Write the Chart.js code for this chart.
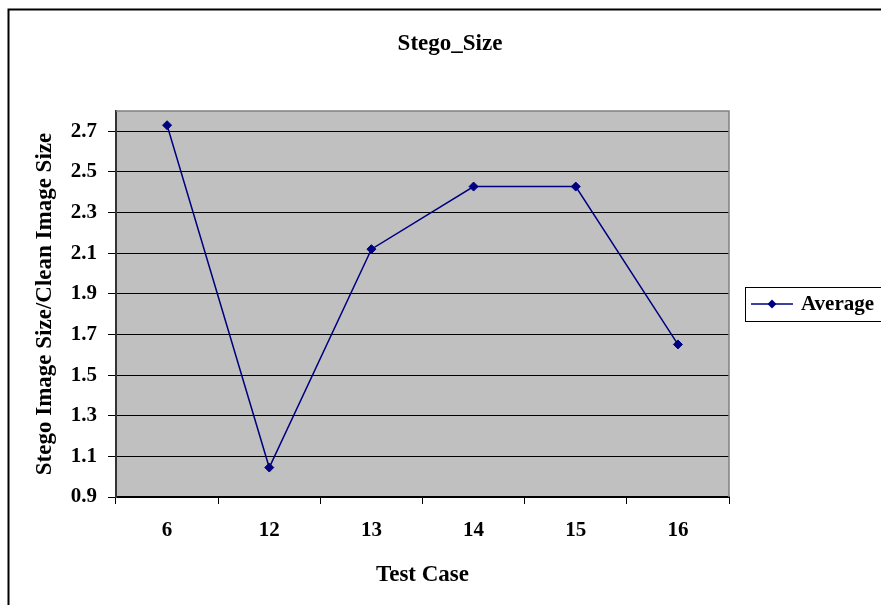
<!DOCTYPE html>
<html>
<head>
<meta charset="utf-8">
<script src="https://cdn.jsdelivr.net/npm/chart.js@4"></script>
<style>
  html, body { margin: 0; padding: 0; background: #fff; }
</style>
</head>
<body>
<canvas id="myChart" width="881" height="605"></canvas>
<script>
// data
const testCases = ['6', '12', '13', '14', '15', '16'];
const averages = [2.73, 1.045, 2.12, 2.428, 2.428, 1.651];
const yTicks = [0.9, 1.1, 1.3, 1.5, 1.7, 1.9, 2.1, 2.3, 2.5, 2.7];
const chartTitle = 'Stego_Size';

const FONT = 'Liberation Serif, Times New Roman, serif';
const NAVY = '#000080';

// excel-ish frame, grey plot area, title and boxed legend
const excelLook = {
    id: 'excelLook',
    beforeDraw(chart) {
        const ctx = chart.ctx;
        const a = chart.chartArea;
        ctx.save();
        ctx.fillStyle = '#fff';
        ctx.fillRect(0, 0, chart.width, chart.height);
        ctx.strokeStyle = '#000';
        ctx.lineWidth = 2;
        ctx.strokeRect(8.5, 9.5, chart.width + 20, chart.height + 20);
        ctx.fillStyle = '#C0C0C0';
        ctx.fillRect(a.left, a.top, a.right - a.left, a.bottom - a.top);
        ctx.restore();
    },
    afterDraw(chart) {
        const ctx = chart.ctx;
        const a = chart.chartArea;
        ctx.save();
        ctx.strokeStyle = '#808080';
        ctx.lineWidth = 1.5;
        ctx.beginPath();
        ctx.moveTo(a.left, a.top);
        ctx.lineTo(a.right, a.top);
        ctx.lineTo(a.right, a.bottom);
        ctx.stroke();

        // title
        ctx.fillStyle = '#000';
        ctx.font = 'bold 23px ' + FONT;
        ctx.textAlign = 'center';
        ctx.textBaseline = 'middle';
        ctx.fillText(chartTitle, 450, 44);

        // legend
        const ds = chart.data.datasets[0];
        const bx = 745, by = 287, bh = 34;
        const cy = by + bh / 2;
        ctx.strokeStyle = '#000';
        ctx.lineWidth = 1;
        ctx.strokeRect(bx + 0.5, by + 0.5, chart.width, bh);
        ctx.strokeStyle = NAVY;
        ctx.lineWidth = 1.5;
        ctx.beginPath();
        ctx.moveTo(751, cy);
        ctx.lineTo(793, cy);
        ctx.stroke();
        ctx.fillStyle = NAVY;
        ctx.beginPath();
        ctx.moveTo(772, cy - 4.5);
        ctx.lineTo(776.5, cy);
        ctx.lineTo(772, cy + 4.5);
        ctx.lineTo(767.5, cy);
        ctx.closePath();
        ctx.fill();
        ctx.fillStyle = '#000';
        ctx.font = 'bold 21px ' + FONT;
        ctx.textAlign = 'left';
        ctx.fillText(ds.label, 801, cy + 1);
        ctx.restore();
    }
};

const data = {
    labels: testCases,
    datasets: [{
        label: 'Average',
        data: averages,
        borderColor: NAVY,
        backgroundColor: NAVY,
        borderWidth: 1.5,
        pointStyle: 'rectRot',
        pointRadius: 4.5,
        pointBorderWidth: 1,
        tension: 0
    }]
};

const config = {
    type: 'line',
    data: data,
    options: {
        responsive: false,
        animation: false,
        layout: {
            padding: { left: 0, right: 152, top: 111, bottom: 0 }
        },
        plugins: {
            legend: { display: false },
            tooltip: { enabled: false },
            title: { display: false }
        },
        scales: {
            x: {
                type: 'category',
                offset: true,
                afterFit(scale) { scale.height = 108; },
                grid: {
                    offset: true,
                    drawOnChartArea: false,
                    drawTicks: true,
                    tickLength: 7,
                    color: '#000',
                    lineWidth: 1
                },
                border: { color: '#000', width: 2 },
                ticks: {
                    color: '#000',
                    padding: 14,
                    font: { family: FONT, size: 21, weight: 'bold' }
                },
                title: {
                    display: true,
                    text: 'Test Case',
                    color: '#000',
                    font: { family: FONT, size: 23, weight: 'bold' },
                    padding: { top: 17, bottom: 16 }
                }
            },
            y: {
                min: 0.9,
                max: 2.8,
                afterFit(scale) { scale.width = 116; },
                afterBuildTicks(scale) {
                    scale.ticks = yTicks.map(v => ({ value: v }));
                },
                grid: {
                    color: '#000',
                    lineWidth: 1,
                    drawTicks: true,
                    tickLength: 8
                },
                border: { color: '#333', width: 2 },
                ticks: {
                    color: '#000',
                    padding: 11,
                    font: { family: FONT, size: 21, weight: 'bold' },
                    callback: v => Number(v).toFixed(1)
                },
                title: {
                    display: true,
                    text: 'Stego Image Size/Clean Image Size',
                    color: '#000',
                    font: { family: FONT, size: 23, weight: 'bold' },
                    padding: { top: 31, bottom: 31 }
                }
            }
        }
    },
    plugins: [excelLook]
};

const myChart = new Chart(document.getElementById('myChart'), config);
</script>
</body>
</html>
